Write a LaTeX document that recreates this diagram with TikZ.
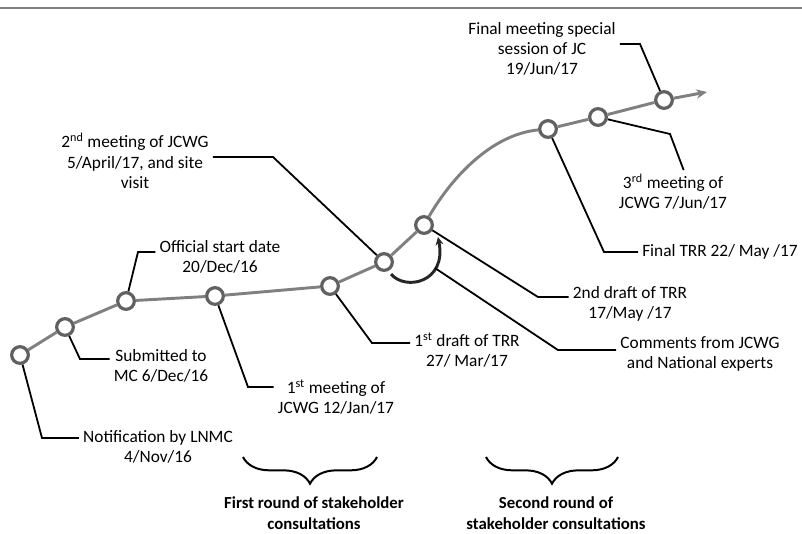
\documentclass[tikz,border=0pt]{standalone}
\usepackage{fontspec}
\setmainfont{Carlito}
\usetikzlibrary{arrows.meta,decorations.pathreplacing}

\tikzset{
  milestone/.style={circle,draw=black!62,line width=2.4pt,fill=white,minimum size=12.5pt,inner sep=0pt},
  track/.style={draw=black!50,line width=2.2pt},
  leader/.style={draw=black,line width=1.35pt},
  caption/.style={align=center,inner sep=3pt,font=\fontsize{13}{15.2}\selectfont},
  roundlabel/.style={align=center,inner sep=0pt,font=\bfseries\fontsize{12.6}{15.8}\selectfont},
  roundbrace/.style={decorate,decoration={brace,mirror,amplitude=20pt},line width=1.5pt},
  feedback/.style={draw=black!85,line width=2.2pt,-{Stealth[length=6pt,width=6pt]}}
}

\begin{document}
\begin{tikzpicture}[x=0.75pt,y=-0.75pt]
    \useasboundingbox (0,0) rectangle (802,533);
    \draw[black!50,line width=1pt] (0,8) -- (802,8);

    \node[milestone] (m1) at (20,355) {};
    \node[milestone] (m2) at (65,327) {};
    \node[milestone] (m3) at (126,301) {};
    \node[milestone] (m4) at (215,296) {};
    \node[milestone] (m5) at (330,286) {};
    \node[milestone] (m6) at (384,262) {};
    \node[milestone] (m7) at (424,225) {};
    \node[milestone] (m8) at (548,129) {};
    \node[milestone] (m9) at (598,117) {};
    \node[milestone] (m10) at (664,100) {};
    \coordinate (tip) at (707,92);

    \draw[track] (m1) -- (m2) -- (m3) -- (m4) -- (m5) -- (m6) -- (m7)
        .. controls (455,172) and (495,134) .. (m8) -- (m9) -- (m10);
    \draw[track,-{Stealth[length=8pt,width=7pt]}] (m10) -- (tip);

    \node[caption] (l1) at (158,447) {Notification by LNMC\\4/Nov/16};
    \node[caption] (l2) at (161,366) {Submitted to\\MC 6/Dec/16};
    \node[caption] (l3) at (220,257) {Official start date\\20/Dec/16};
    \node[caption] (l4) at (336,397) {1\textsuperscript{st} meeting of\\JCWG 12/Jan/17};
    \node[caption] (l5) at (467,350) {1\textsuperscript{st} draft of TRR\\27/ Mar/17};
    \node[caption] (l6) at (135,161) {2\textsuperscript{nd} meeting of JCWG\\5/April/17, and site\\visit};
    \node[caption] (l7) at (630,304) {2nd draft of TRR\\17/May /17};
    \node[caption] (l8) at (700,354) {Comments from JCWG\\and National experts};
    \node[caption] (l9) at (720,252) {Final TRR 22/ May /17};
    \node[caption] (l10) at (673,192) {3\textsuperscript{rd} meeting of\\JCWG 7/Jun/17};
    \node[caption] (l11) at (542,49) {Final meeting special\\session of JC\\19/Jun/17};

    \coordinate (k1) at (42,438);
    \coordinate (k2) at (80,359);
    \coordinate (k3) at (138,252);
    \coordinate (k4) at (248,387);
    \coordinate (k5) at (372,343);
    \coordinate (k6) at (273,157);
    \coordinate (k7) at (538,297);
    \coordinate (k8) at (558,350);
    \coordinate (k9) at (604,252);
    \coordinate (k10) at (670,134);
    \coordinate (k11) at (640,44);

    \draw[leader] (m1) -- (k1) -- (k1 -| l1.west);
    \draw[leader] (m2) -- (k2) -- (k2 -| l2.west);
    \draw[leader] (m3) -- (k3) -- (k3 -| l3.west);
    \draw[leader] (m4) -- (k4) -- (k4 -| l4.west);
    \draw[leader] (m5) -- (k5) -- (k5 -| l5.west);
    \draw[leader] (m6) -- (k6) -- (k6 -| l6.east);
    \draw[leader] (m7) -- (k7) -- (k7 -| l7.west);
    \draw[leader] (m8) -- (k9) -- (k9 -| l9.west);
    \draw[leader] (m9) -- (k10) -- ([xshift=8pt]l10.north);
    \draw[leader] (m10) -- (k11) -- (k11 -| l11.east);

    \coordinate (a1) at (391,274);
    \coordinate (a2) at (438,237);
    \coordinate (a3) at (435,268);
    \draw[feedback] (a1) .. controls (405,291) and (447,283) .. (a2);
    \draw[leader] (a3) -- (k8) -- (k8 -| l8.west);

    \coordinate (b1s) at (243,457);
    \coordinate (b1e) at (377,457);
    \coordinate (b2s) at (486,457);
    \coordinate (b2e) at (618,457);
    \draw[roundbrace] (b1s) -- (b1e);
    \draw[roundbrace] (b2s) -- (b2e);

    \node[roundlabel] (r1) at (314,513) {First round of stakeholder\\consultations};
    \node[roundlabel] (r2) at (556,513) {Second round of\\stakeholder consultations};
\end{tikzpicture}
\end{document}
